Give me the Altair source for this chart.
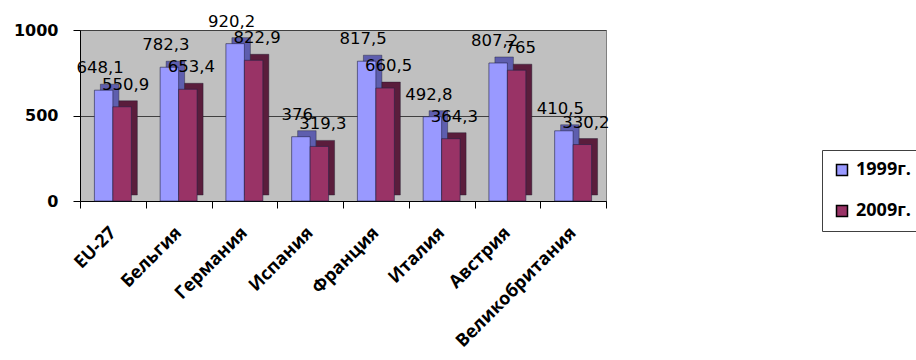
import altair as alt
import pandas as pd

categories = ["EU-27", "Бельгия", "Германия", "Испания", "Франция", "Италия", "Австрия", "Великобритания"]
series = ["1999г.", "2009г."]
values_1999 = [648.1, 782.3, 920.2, 376, 817.5, 492.8, 807.2, 410.5]
values_2009 = [550.9, 653.4, 822.9, 319.3, 660.5, 364.3, 765, 330.2]

front_colors = ["#9999FF", "#993366"]
side_colors = ["#5E5EAE", "#5A1D3C"]

rows = []
for c, a, b in zip(categories, values_1999, values_2009):
    for s, v in zip(series, (a, b)):
        rows.append({"country": c, "series": s, "value": v,
                     "label": f"{v:g}".replace(".", ",")})
df = pd.DataFrame(rows)

FONT = "Open Sans"
NUMFONT = "DejaVu Sans"
W, H = 526, 171
BAND = W / len(categories)
DEPTH = 6

x = alt.X("country:N", sort=categories, title=None,
          scale=alt.Scale(paddingInner=0, paddingOuter=0),
          axis=alt.Axis(labelAngle=-45, labelAlign="right", labelBaseline="middle",
                        labelFont=FONT, labelFontSize=18, labelFontWeight="bold",
                        labelColor="#000000", labelPadding=22, labelOffset=0,
                        tickBand="extent", tickColor="#000000", tickSize=7,
                        domainColor="#000000", grid=False, labelLimit=300))
xo_front = alt.XOffset("series:N", sort=series,
                       scale=alt.Scale(paddingInner=0, paddingOuter=0.78))
xo_back = alt.XOffset("series:N", sort=series,
                      scale=alt.Scale(paddingInner=0, paddingOuter=0.78,
                                      range=[DEPTH, BAND + DEPTH]))
y = alt.Y("value:Q", title=None,
          scale=alt.Scale(domain=[0, 1000], nice=False),
          axis=alt.Axis(values=[0, 500, 1000], format="d", labelFont=NUMFONT, labelFontSize=16,
                        labelFontWeight="bold", labelColor="#000000", labelPadding=15,
                        tickColor="#000000", tickSize=7, domainColor="#000000",
                        gridColor="#404040", gridWidth=1))

base = alt.Chart(df)

back = base.mark_bar(yOffset=-DEPTH, stroke="#1a1a2a", strokeWidth=0.4).encode(
    x=x, xOffset=xo_back, y=y,
    color=alt.Color("series:N", sort=series,
                    scale=alt.Scale(domain=series, range=side_colors), legend=None),
)

front = base.mark_bar(stroke="#222244", strokeWidth=0.6).encode(
    x=x, xOffset=xo_front, y=y,
    color=alt.Color("series:N", sort=series,
                    scale=alt.Scale(domain=series, range=front_colors),
                    legend=alt.Legend(title=None, orient="none", legendX=742, legendY=120,
                                      strokeColor="#404040", fillColor="#FFFFFF",
                                      padding=11, symbolType="square", symbolSize=121,
                                      symbolStrokeColor="#000000", symbolStrokeWidth=1.5,
                                      labelFont=FONT, labelFontSize=18,
                                      labelFontWeight="bold", labelColor="#000000",
                                      rowPadding=23, labelOffset=5)),
)

labels = base.mark_text(dy=-22, baseline="middle", align="center",
                        font=NUMFONT, fontSize=16.5, color="#000000").encode(
    x=x, xOffset=xo_front, y=y, text="label:N")

chart = alt.layer(back, front, labels).resolve_scale(
    color="independent", xOffset="independent"
).properties(
    width=W, height=H,
    autosize=alt.AutoSizeParams(type="none"),
    padding={"left": 80, "top": 30, "right": 310, "bottom": 159},
    background="#FFFFFF",
).configure_view(fill="#C0C0C0", stroke="#808080", strokeWidth=1)

chart.save("out.html", embed_options={"renderer": "svg", "actions": False})
